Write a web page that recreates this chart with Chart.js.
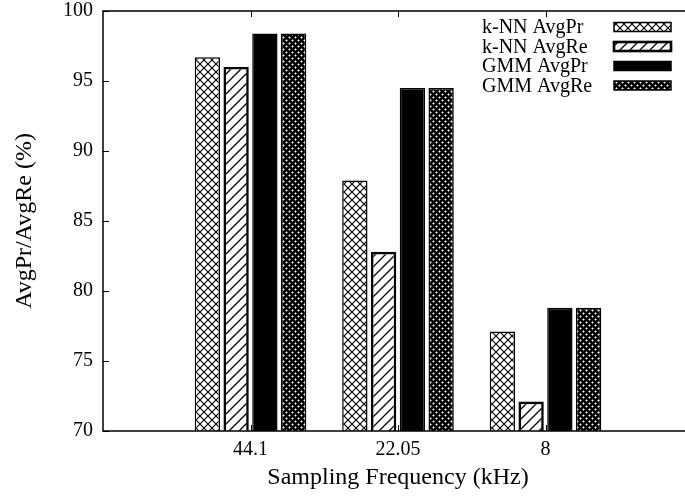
<!DOCTYPE html>
<html>
<head>
<meta charset="utf-8">
<script src="https://cdn.jsdelivr.net/npm/chart.js@4.4.1/dist/chart.umd.min.js"></script>
<style>
  html, body { margin: 0; padding: 0; background: #fff; overflow: hidden; }
  #wrap { width: 700px; height: 498px; }
</style>
</head>
<body>
<div id="wrap"><canvas id="myChart" width="700" height="498"></canvas></div>
<script>
const FREQS = ["44.1", "22.05", "8"];
const SERIES = ["k-NN AvgPr", "k-NN AvgRe", "GMM AvgPr", "GMM AvgRe"];
const KNN_PR = [96.7, 87.9, 77.1];
const KNN_RE = [96.0, 82.8, 72.1];
const GMM_PR = [98.4, 94.5, 78.8];
const GMM_RE = [98.4, 94.5, 78.8];
const Y_TICKS = [70, 75, 80, 85, 90, 95, 100];

// fill patterns, gnuplot style
function makePattern(kind) {
  const c = document.createElement("canvas");
  const ctx = c.getContext("2d");
  if (kind === "cross") {
    c.width = 8; c.height = 8;
    ctx.fillStyle = "#fff"; ctx.fillRect(0, 0, 8, 8);
    ctx.strokeStyle = "#000"; ctx.lineWidth = 1.1;
    ctx.beginPath();
    ctx.moveTo(0, 0); ctx.lineTo(8, 8);
    ctx.moveTo(0, 8); ctx.lineTo(8, 0);
    ctx.stroke();
  } else if (kind === "hatch") {
    c.width = 10; c.height = 10;
    ctx.fillStyle = "#fff"; ctx.fillRect(0, 0, 10, 10);
    ctx.strokeStyle = "#000"; ctx.lineWidth = 1.3;
    ctx.beginPath();
    ctx.moveTo(0, 10); ctx.lineTo(10, 0);
    ctx.moveTo(-5, 5); ctx.lineTo(5, -5);
    ctx.moveTo(5, 15); ctx.lineTo(15, 5);
    ctx.stroke();
  } else if (kind === "dots") {
    c.width = 6; c.height = 6;
    ctx.fillStyle = "#000"; ctx.fillRect(0, 0, 6, 6);
    ctx.fillStyle = "#fff";
    [[1, 1], [4, 4]].forEach(([x, y]) => {
      ctx.fillRect(x, y - 0.5, 1, 2);
      ctx.fillRect(x - 0.5, y, 2, 1);
    });
  } else {
    c.width = 2; c.height = 2;
    ctx.fillStyle = "#000"; ctx.fillRect(0, 0, 2, 2);
  }
  return ctx.createPattern(c, "repeat");
}

const fills = [makePattern("cross"), makePattern("hatch"), makePattern("solid"), makePattern("dots")];
const borders = [1.5, 2.6, 1.5, 1.5];
const values = [KNN_PR, KNN_RE, GMM_PR, GMM_RE];

const data = {
  datasets: SERIES.map((name, i) => ({
    label: name,
    data: values[i].map((v, j) => ({ x: j + 1, y: v })),
    backgroundColor: fills[i],
    borderColor: "#000",
    borderWidth: borders[i],
    borderSkipped: false,
    categoryPercentage: 0.78,
    barPercentage: 0.88,
  })),
};

const FONT = "'Liberation Serif', 'Times New Roman', serif";

// frame, inward ticks and the legend box in the upper right
const gnuplotLook = {
  id: "gnuplotLook",
  beforeDatasetsDraw(chart) {
    const { ctx, chartArea: a, scales } = chart;
    ctx.save();
    ctx.strokeStyle = "#000";
    ctx.lineWidth = 1;
    ctx.beginPath();
    Y_TICKS.forEach(v => {
      const y = Math.round(scales.y.getPixelForValue(v)) + 0.5;
      ctx.moveTo(a.left, y); ctx.lineTo(a.left + 6, y);
      ctx.moveTo(a.right, y); ctx.lineTo(a.right - 6, y);
    });
    FREQS.forEach((f, j) => {
      const x = Math.round(scales.x.getPixelForValue(j + 1)) + 0.5;
      ctx.moveTo(x, a.bottom); ctx.lineTo(x, a.bottom - 6);
      ctx.moveTo(x, a.top); ctx.lineTo(x, a.top + 6);
    });
    ctx.stroke();
    ctx.restore();
  },
  afterDatasetsDraw(chart) {
    const { ctx, chartArea: a } = chart;
    ctx.save();
    ctx.strokeStyle = "#000";
    ctx.lineWidth = 1.5;
    ctx.strokeRect(a.left, a.top, a.right - a.left, a.bottom - a.top);

    // legend
    ctx.font = "20px " + FONT;
    ctx.textBaseline = "middle";
    chart.data.datasets.forEach((ds, i) => {
      const cy = 27 + i * 19.5;
      ctx.fillStyle = "#000";
      ctx.fillText(ds.label, 482, cy + 1);
      ctx.fillStyle = ds.backgroundColor;
      ctx.fillRect(614, cy - 4.5, 57, 9);
      ctx.lineWidth = ds.borderWidth;
      ctx.strokeRect(614, cy - 4.5, 57, 9);
    });
    ctx.restore();
  },
};

const config = {
  type: "bar",
  data: data,
  options: {
    responsive: false,
    animation: false,
    layout: { padding: { top: 0, right: 7, left: 0, bottom: 0 } },
    plugins: {
      legend: { display: false },
      tooltip: { enabled: false },
    },
    scales: {
      x: {
        type: "linear",
        min: 0,
        max: 4,
        offset: false,
        grid: { display: false, drawTicks: false, offset: false },
        border: { display: false },
        ticks: {
          stepSize: 1,
          autoSkip: false,
          maxRotation: 0,
          padding: 7,
          color: "#000",
          font: { family: FONT, size: 20 },
          callback: v => FREQS[v - 1] || "",
        },
        title: {
          display: true,
          text: "Sampling Frequency (kHz)",
          color: "#000",
          font: { family: FONT, size: 24 },
          padding: { top: 0, bottom: 6 },
        },
        afterFit: s => {
          s.height = 67;
          s.paddingLeft = 0;
          s.paddingRight = 0;
        },
      },
      y: {
        min: 70,
        max: 100,
        grid: { display: false, drawTicks: false },
        border: { display: false },
        ticks: {
          stepSize: 5,
          padding: 10,
          color: "#000",
          font: { family: FONT, size: 20 },
        },
        title: {
          display: true,
          text: "AvgPr/AvgRe (%)",
          color: "#000",
          font: { family: FONT, size: 24 },
          padding: { top: 10, bottom: 0 },
        },
        afterFit: s => {
          s.width = 103;
          s.paddingTop = 11;
          s.paddingBottom = 0;
        },
      },
    },
  },
  plugins: [gnuplotLook],
};

const myChart = new Chart(document.getElementById("myChart"), config);
</script>
</body>
</html>
